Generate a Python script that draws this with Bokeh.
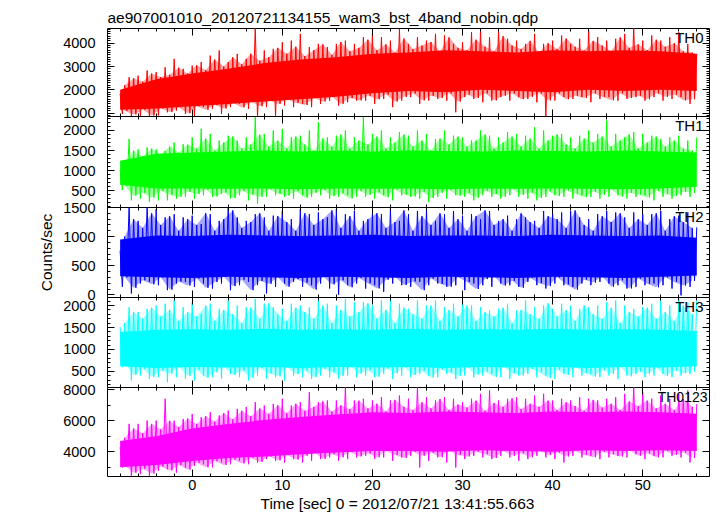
from bokeh.plotting import figure
from bokeh.layouts import column
from bokeh.models import Range1d, LinearAxis, SingleIntervalTicker, Label, Title
from bokeh.embed import file_html
from bokeh.resources import INLINE

# ---------------- data (read / estimated from the reference) ----------------
title_text = "ae907001010_20120721134155_wam3_bst_4band_nobin.qdp"
x_label = "Time [sec] 0 = 2012/07/21 13:41:55.663"
y_label = "Counts/sec"

band_names = ["TH0", "TH1", "TH2", "TH3", "TH0123"]

# sample times (sec): main peaks at whole seconds, then trough (+0.25 s),
# secondary peak (+0.5 s), secondary trough (+0.75 s); dense core band every 4 s
t_hi = list(range(-8, 57))
t_lo = [t + 0.25 for t in range(-8, 56)]
t_hi2 = [t + 0.5 for t in range(-8, 56)]
t_lo2 = [t + 0.75 for t in range(-8, 56)]
t_core = list(range(-8, 57, 4))

TH0_hi = [1830, 2540, 2610, 2830, 2760, 2970, 3330, 2900, 3040, 3190,
          3470, 3690, 3190, 3540, 3330, 4700, 3690, 3760, 4040, 4110,
          4400, 3830, 3970, 3830, 3970, 4110, 3970, 4260, 4400, 4260,
          4110, 4610, 3970, 4260, 4110, 4400, 4330, 3970, 4040, 4470,
          4540, 4260, 4540, 4190, 4110, 3970, 4400, 3970, 4110, 4330,
          3970, 4190, 4540, 4260, 4110, 4190, 4400, 4700, 4110, 4330,
          4110, 4260, 4470, 3970, 3540]
TH0_lo = [970, 860, 860, 860, 900, 1040, 1110, 970, 860, 1260,
          1190, 970, 1260, 1400, 1190, 800, 1260, 880, 1330, 1260,
          1400, 1260, 1400, 1540, 1330, 1470, 1540, 1540, 1400, 1610,
          1260, 1540, 1690, 1400, 1540, 1610, 1540, 1040, 1690, 1610,
          1470, 1540, 1690, 1540, 1690, 1610, 1470, 830, 1540, 1690,
          1610, 1690, 1470, 1610, 1690, 1540, 1610, 1690, 1540, 1690,
          1540, 1610, 1690, 1400]
TH0_hi2 = [2200, 2500, 2350, 2700, 2550, 2650, 2950, 2700,
           3050, 2850, 3300, 3000, 3400, 3100, 3550, 3250, 3400, 3800,
           3550, 3850, 3450, 3700, 3950, 3500, 4050, 3650, 3800, 4150,
           3700, 3950, 3600, 4200, 3750, 3900, 4050, 3650, 4250, 3800,
           3700, 4150, 3850, 3650, 4300, 3900, 3750, 4100, 3600, 4000,
           3750, 4200, 3850, 3700, 4100, 3900, 3650, 4250, 3800, 3950,
           3700, 4150, 3850, 4000, 3650, 3600]
TH0_lo2 = [1100, 950, 1150, 900, 1200, 1050, 1250, 1000,
           1300, 1150, 1350, 1200, 1450, 1250, 1500, 1300, 1550, 1400,
           1600, 1450, 1350, 1650, 1500, 1700, 1400, 1650, 1550, 1750,
           1600, 1800, 1500, 1700, 1850, 1550, 1750, 1650, 1850, 1500,
           1800, 1650, 1850, 1550, 1750, 1850, 1600, 1700, 1850, 1550,
           1850, 1600, 1750, 1650, 1850, 1700, 1550, 1850, 1650, 1750,
           1600, 1850, 1700, 1800, 1550, 1600]
TH0_core_lo = [1150, 1200, 1300, 1400, 1500, 1600, 1700, 1850, 1950,
               1900, 2000, 1950, 1900, 2000, 1950, 2000, 1950]
TH0_core_hi = [2000, 2450, 2700, 2900, 3150, 3300, 3400, 3550, 3600,
               3700, 3650, 3600, 3700, 3650, 3700, 3650, 3550]

TH1_hi = [1025, 1790, 1530, 1580, 1530, 1490, 1700, 1660, 1830, 2040,
          1915, 1750, 1870, 1750, 1830, 2340, 1915, 2000, 2040, 1830,
          1870, 2000, 2210, 1830, 1870, 2000, 1830, 2340, 1915, 2000,
          1830, 1960, 1870, 2000, 1915, 1790, 2000, 1870, 1830, 1750,
          2000, 1870, 1830, 1960, 1915, 1870, 2085, 2000, 1870, 1915,
          1830, 1870, 2000, 1915, 2250, 1915, 1830, 1960, 1915, 1870,
          1790, 1830, 1870, 1750, 1830]
TH1_lo = [520, 264, 306, 221, 264, 264, 306, 350, 306, 390,
          350, 430, 306, 390, 264, 180, 350, 390, 350, 306,
          390, 350, 390, 306, 350, 390, 350, 350, 306, 390,
          264, 390, 350, 306, 221, 350, 306, 390, 350, 264,
          390, 350, 306, 390, 350, 306, 264, 350, 390, 350,
          306, 390, 350, 306, 350, 390, 306, 350, 390, 264,
          350, 306, 390, 350]
TH1_hi2 = [1150, 1500, 1350, 1550, 1400, 1600, 1450, 1650,
           1550, 1800, 1500, 1700, 1850, 1550, 1650, 1900, 1600, 1750,
           1550, 1850, 1650, 1500, 1800, 1600, 1900, 1550, 1750, 1650,
           1850, 1550, 1700, 1900, 1600, 1750, 1500, 1800, 1650, 1850,
           1600, 1750, 1900, 1550, 1700, 1850, 1600, 1800, 1550, 1750,
           1900, 1650, 1550, 1800, 1700, 1850, 1600, 1750, 1900, 1550,
           1700, 1850, 1600, 1750, 1550, 1500]
TH1_lo2 = [620, 380, 450, 330, 500, 400, 350, 480,
           420, 530, 360, 460, 320, 500, 410, 350, 540, 430,
           380, 490, 330, 450, 520, 370, 440, 310, 500, 400,
           460, 340, 530, 410, 360, 480, 320, 450, 520, 380,
           440, 330, 500, 420, 350, 540, 400, 460, 320, 490,
           370, 510, 430, 340, 480, 400, 530, 360, 450, 410,
           330, 500, 420, 370, 480, 450]
TH1_core_lo = [650, 560, 560, 550, 560, 540, 560, 550, 560,
               540, 560, 550, 560, 550, 540, 560, 600]
TH1_core_hi = [1250, 1420, 1450, 1480, 1500, 1480, 1500, 1480, 1500,
               1490, 1480, 1500, 1490, 1480, 1500, 1480, 1450]

TH2_hi = [760, 1550, 1270, 1550, 1470, 1330, 1385, 1330, 1360, 1215,
          1385, 1270, 1550, 1330, 1270, 1385, 1330, 1360, 1440, 1300,
          1470, 1385, 1415, 1330, 1470, 1385, 1440, 1270, 1385, 1385,
          1470, 1270, 1385, 1440, 1470, 1270, 1385, 1440, 1360, 1385,
          1300, 1440, 1270, 1360, 1300, 1330, 1270, 1440, 1385, 1415,
          1440, 1330, 1300, 1385, 1440, 1415, 1330, 1415, 1385, 1385,
          1440, 1300, 1360, 1415, 1160]
TH2_lo = [137, 23, 194, 222, 165, 80, 194, 222, 137, 194,
          108, 194, 80, 165, 222, 165, 23, 137, 194, 222,
          137, 165, 194, 108, 0, 165, 194, 108, 165, 52,
          194, 165, 137, 222, 165, 194, 137, 165, 80, 194,
          165, 137, 194, 165, 137, 222, 165, 108, 194, 165,
          137, 194, 165, 222, 194, 165, 108, 137, 165, 194,
          165, 108, -10, 137]
TH2_hi2 = [1000, 1300, 1150, 1400, 1200, 1350, 1100, 1300,
           1200, 1400, 1100, 1300, 1450, 1150, 1250, 1400, 1100, 1350,
           1250, 1100, 1400, 1200, 1300, 1450, 1150, 1350, 1100, 1300,
           1400, 1150, 1250, 1450, 1100, 1350, 1200, 1400, 1150, 1300,
           1100, 1350, 1450, 1200, 1300, 1100, 1400, 1250, 1150, 1350,
           1300, 1150, 1450, 1200, 1100, 1350, 1250, 1400, 1150, 1300,
           1200, 1400, 1100, 1350, 1250, 1150]
TH2_lo2 = [300, 120, 250, 180, 300, 90, 230, 160,
           280, 120, 220, 310, 150, 260, 80, 240, 190, 300,
           140, 270, 210, 90, 320, 180, 250, 130, 290, 200,
           110, 260, 310, 170, 230, 80, 280, 190, 140, 300,
           220, 100, 270, 320, 160, 240, 120, 290, 200, 150,
           300, 180, 90, 260, 210, 320, 140, 250, 110, 280,
           190, 130, 300, 220, 160, 240]
TH2_core_lo = [320, 300, 290, 310, 300, 290, 310, 300, 290,
               310, 300, 290, 310, 300, 290, 310, 330]
TH2_core_hi = [950, 1020, 1010, 1030, 1020, 1010, 1020, 1030, 1010,
               1020, 1020, 1010, 1030, 1020, 1010, 1020, 980]

TH3_hi = [1510, 1960, 1850, 1925, 2000, 2040, 2115, 1960, 2075, 1810,
          2040, 1925, 2115, 2000, 1960, 2150, 2040, 1960, 1925, 2040,
          2000, 1960, 2115, 2040, 2000, 2150, 2075, 2075, 2000, 2115,
          2150, 2040, 1925, 2115, 2000, 2115, 1960, 2040, 2150, 2000,
          1960, 1885, 1925, 2040, 1885, 2115, 1960, 2000, 1925, 2040,
          2000, 1925, 1960, 2000, 2075, 2115, 2000, 1925, 1960, 2040,
          2115, 2000, 2150, 2075, 2115]
TH3_lo = [598, 295, 408, 332, 370, 257, 370, 332, 295, 408,
          370, 332, 446, 370, 295, 408, 332, 370, 295, 408,
          370, 332, 408, 370, 332, 408, 370, 408, 370, 446,
          332, 408, 370, 446, 408, 370, 446, 332, 408, 370,
          408, 446, 370, 332, 408, 446, 370, 408, 332, 446,
          370, 408, 446, 370, 408, 332, 408, 446, 370, 408,
          446, 370, 408, 446]
TH3_hi2 = [1600, 1850, 1700, 1950, 1750, 1900, 1650, 1850,
           1750, 2000, 1650, 1900, 1800, 1600, 1950, 1700, 2050, 1800,
           1650, 1950, 1850, 1700, 2000, 1600, 1900, 1750, 1850, 2050,
           1700, 1900, 1600, 1950, 1800, 1700, 2000, 1650, 1900, 1750,
           2000, 1650, 1850, 1750, 1950, 1600, 1900, 1800, 1700, 2050,
           1750, 1900, 1650, 2000, 1800, 1700, 1950, 1600, 1850, 1750,
           1950, 1700, 1850, 1650, 2000, 1800]
TH3_lo2 = [700, 420, 560, 380, 520, 450, 610, 400,
           540, 360, 480, 600, 420, 520, 350, 580, 460, 390,
           600, 440, 520, 370, 560, 480, 400, 620, 450, 530,
           380, 570, 460, 600, 420, 510, 360, 550, 470, 400,
           590, 430, 500, 380, 620, 460, 410, 560, 480, 350,
           540, 420, 600, 470, 380, 530, 450, 610, 390, 500,
           440, 580, 400, 520, 460, 500]
TH3_core_lo = [620, 580, 600, 590, 600, 580, 600, 590, 600,
               580, 600, 590, 600, 580, 600, 590, 620]
TH3_core_hi = [1400, 1450, 1460, 1450, 1470, 1450, 1460, 1450, 1470,
               1450, 1460, 1450, 1470, 1450, 1460, 1450, 1420]

TH0123_hi = [4290, 5800, 5800, 6010, 6010, 7420, 6010, 6120, 6440, 6230,
             6550, 6340, 6660, 6770, 6880, 7200, 6980, 7090, 7420, 6980,
             7200, 7850, 7200, 7310, 7310, 8200, 7310, 7420, 7310, 7520,
             7310, 7630, 7420, 8200, 7520, 7310, 7520, 7420, 7200, 7420,
             7740, 7960, 7310, 7420, 7520, 7420, 7630, 7740, 7310, 7420,
             7310, 7520, 7420, 7310, 7420, 7520, 7740, 8200, 7850, 7420,
             7630, 7420, 7740, 7960, 7090]
TH0123_lo = [2990, 2450, 2560, 2450, 2770, 2880, 2660, 2990, 3100, 3200,
             2990, 3310, 3200, 3420, 3200, 3310, 3530, 3420, 3310, 3530,
             3310, 3420, 3530, 3640, 3420, 3530, 3640, 3740, 3530, 3640,
             3420, 3640, 3740, 2990, 3420, 3640, 3310, 2990, 3530, 3740,
             3640, 3530, 3740, 3640, 3420, 3530, 3740, 3640, 3530, 3310,
             3740, 3640, 3740, 3530, 3640, 3740, 3640, 3850, 3530, 3740,
             3640, 3740, 3640, 3310]
TH0123_hi2 = [4900, 5500, 5200, 5800, 5450, 6000, 5600, 6150,
              5800, 6300, 5950, 6500, 6100, 6650, 6300, 6800, 6450, 7000,
              6500, 7100, 6650, 6900, 7250, 6600, 7000, 6750, 7300, 6800,
              7100, 6600, 7350, 6900, 6700, 7200, 6800, 7400, 6700, 7050,
              6850, 7300, 6650, 7150, 6900, 7450, 6750, 7100, 6900, 7300,
              6700, 7200, 6950, 6650, 7350, 6850, 7100, 6700, 7250, 6950,
              7300, 6800, 7100, 6700, 7400, 6900]
TH0123_lo2 = [3100, 2650, 2900, 2600, 3050, 2800, 3150, 2850,
              3300, 3000, 3400, 3150, 3500, 3250, 3600, 3350, 3700, 3450,
              3800, 3500, 3750, 3950, 3550, 3850, 3650, 4000, 3700, 3900,
              3650, 4050, 3800, 3600, 4000, 3750, 3950, 3650, 4100, 3800,
              3700, 4000, 3850, 3600, 4050, 3750, 3900, 3650, 4100, 3800,
              3950, 3700, 4050, 3800, 3650, 4000, 3850, 3700, 4100, 3750,
              3900, 3650, 4050, 3800, 3950, 3600]
TH0123_core_lo = [3000, 3150, 3400, 3600, 3700, 3850, 3950, 4050, 4050,
                  4000, 4100, 4050, 4000, 4100, 4050, 4100, 4050]
TH0123_core_hi = [4700, 5000, 5500, 5800, 6050, 6250, 6400, 6550, 6500,
                  6600, 6550, 6500, 6600, 6550, 6600, 6550, 6450]

# ---------------- styling / layout ----------------
FONT = "Liberation Sans"
colors = ["#ff0000", "#00ff00", "#0000ff", "#00ffff", "#ff00ff"]
y_ranges = [(859, 4630), (85, 2348), (-46, 1500), (136, 2182), (2408, 8146)]
y_major = [1000, 500, 500, 500, 2000]
y_minor = [10, 5, 5, 5, 2]
frame_h = [88, 91, 90, 90, 89]
label_style = [(-6, 0, "15px"), (-6, 0, "15px"), (-6, 0, "15px"),
               (-6, 0, "15px"), (-2, -1, "14px")]

his = [TH0_hi, TH1_hi, TH2_hi, TH3_hi, TH0123_hi]
los = [TH0_lo, TH1_lo, TH2_lo, TH3_lo, TH0123_lo]
his2 = [TH0_hi2, TH1_hi2, TH2_hi2, TH3_hi2, TH0123_hi2]
los2 = [TH0_lo2, TH1_lo2, TH2_lo2, TH3_lo2, TH0123_lo2]
core_los = [TH0_core_lo, TH1_core_lo, TH2_core_lo, TH3_core_lo, TH0123_core_lo]
core_his = [TH0_core_hi, TH1_core_hi, TH2_core_hi, TH3_core_hi, TH0123_core_hi]

x_range = Range1d(-9.40, 57.41)
PAD = 8


def style_ticks(ax, show_labels):
    ax.axis_line_color = None
    ax.major_tick_in = 7
    ax.major_tick_out = 0
    ax.minor_tick_in = 3
    ax.minor_tick_out = 0
    ax.major_tick_line_color = "black"
    ax.minor_tick_line_color = "black"
    if show_labels:
        ax.major_label_text_font = FONT
        ax.major_label_text_font_size = "14.5px"
        ax.major_label_text_color = "black"
    else:
        ax.major_label_text_font_size = "0px"
        ax.major_label_text_color = None
        ax.major_label_standoff = 0


figs = []
for i in range(5):
    top_b = 28 if i == 0 else PAD
    bot_b = 39 if i == 4 else PAD
    h = top_b + frame_h[i] + bot_b
    p = figure(width=711, height=h, x_range=x_range,
               y_range=Range1d(*y_ranges[i]),
               output_backend="svg", toolbar_location=None,
               min_border_left=107, min_border_right=2,
               min_border_top=top_b, min_border_bottom=bot_b)
    p.border_fill_color = None
    p.background_fill_color = "white"
    p.outline_line_color = "black"
    p.outline_line_width = 1
    p.grid.visible = False
    if i > 0:
        p.margin = (-2 * PAD, 0, 0, 0)

    # data: typical-spike band, dense core band, spiky line through read peaks/troughs
    xs, ys = [], []
    for k in range(len(t_lo)):
        xs += [t_hi[k], t_lo[k], t_hi2[k], t_lo2[k]]
        ys += [his[i][k], los[i][k], his2[i][k], los2[i][k]]
    xs.append(t_hi[-1])
    ys.append(his[i][-1])
    p.varea(x=t_hi2, y1=los2[i], y2=his2[i], fill_color=colors[i], fill_alpha=0.35)
    p.varea(x=t_core, y1=core_los[i], y2=core_his[i], fill_color=colors[i])
    p.line(xs, ys, line_color=colors[i], line_width=1)

    # axes (ticks inside on all four sides)
    xa = p.xaxis[0]
    xa.ticker = SingleIntervalTicker(interval=10, num_minor_ticks=5)
    style_ticks(xa, i == 4)
    ya = p.yaxis[0]
    ya.ticker = SingleIntervalTicker(interval=y_major[i], num_minor_ticks=y_minor[i])
    style_ticks(ya, True)
    ya.major_label_standoff = 12

    top_ax = LinearAxis(ticker=SingleIntervalTicker(interval=10, num_minor_ticks=5))
    style_ticks(top_ax, False)
    p.add_layout(top_ax, "above")
    right_ax = LinearAxis(ticker=SingleIntervalTicker(interval=y_major[i], num_minor_ticks=y_minor[i]))
    style_ticks(right_ax, False)
    p.add_layout(right_ax, "right")

    xo, yo, fs = label_style[i]
    p.add_layout(Label(x=x_range.end, y=y_ranges[i][1], text=band_names[i],
                       x_offset=xo, y_offset=yo, text_align="right",
                       text_baseline="top", text_font=FONT,
                       text_font_size=fs, text_color="black"))

    if i == 0:
        p.title.text = title_text
        p.title.text_font = FONT
        p.title.text_font_size = "15.5px"
        p.title.text_font_style = "normal"
        p.title.text_color = "black"
        p.title.align = "left"
        p.title.standoff = 5
    if i == 2:
        p.add_layout(Title(text=y_label, align="center", offset=-6,
                           standoff=11, text_font=FONT,
                           text_font_size="15.5px", text_font_style="normal",
                           text_color="black"), "left")
    if i == 4:
        xa.major_label_standoff = 3
        p.add_layout(Title(text=x_label, align="left", offset=153,
                           standoff=1, text_font=FONT,
                           text_font_size="15.5px", text_font_style="normal",
                           text_color="black"), "below")
    figs.append(p)

layout = column(*figs, spacing=0)
open("out.html", "w").write(file_html(layout, INLINE))
